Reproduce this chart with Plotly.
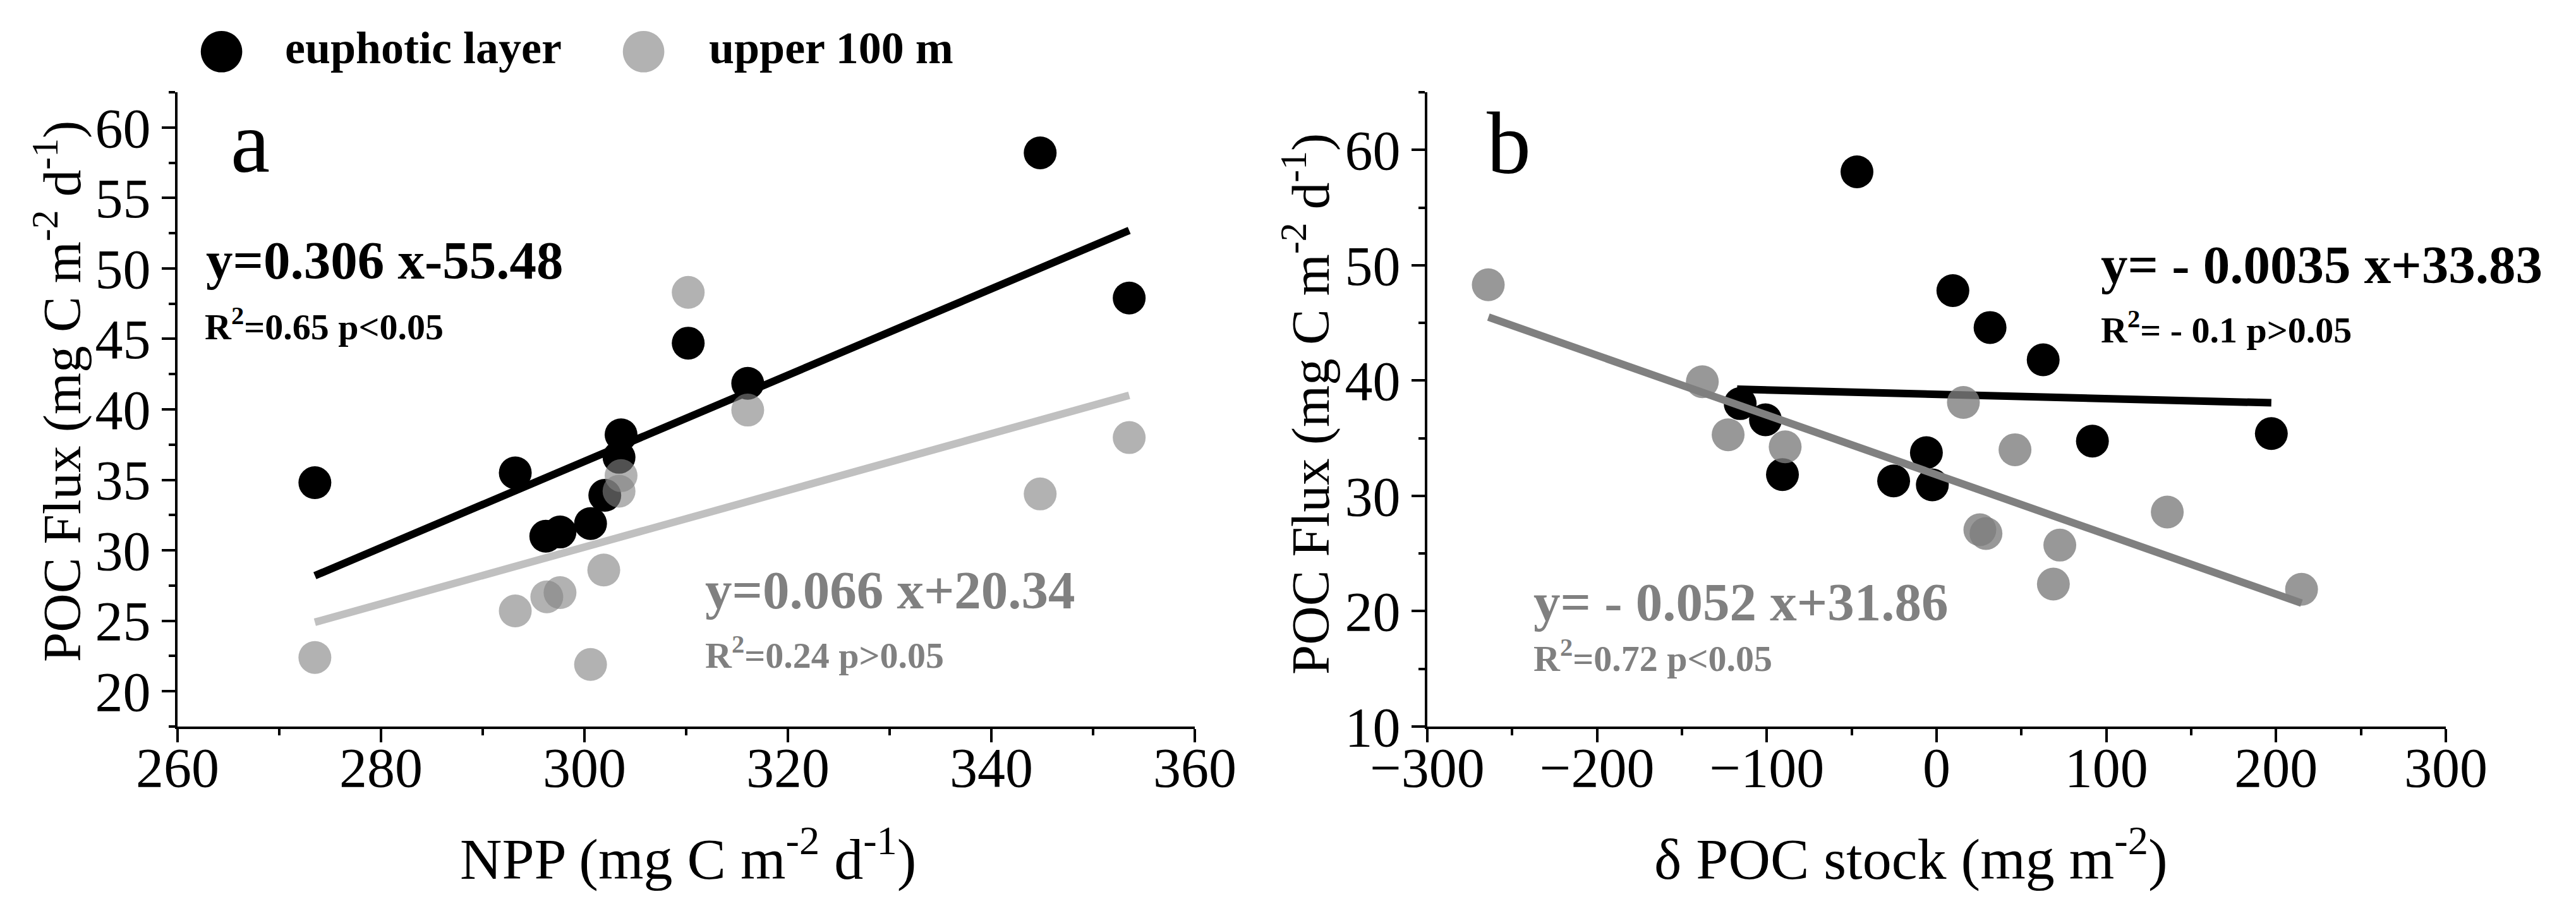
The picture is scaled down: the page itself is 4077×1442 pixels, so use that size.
import plotly.graph_objects as go

# panel a: NPP vs POC flux
npp_eu = [273.5, 293.2, 296.2, 297.6, 300.6, 302.0, 303.4, 303.6, 310.2, 316.05, 344.8, 353.55]
flux_eu_a = [34.8, 35.5, 31.0, 31.3, 31.9, 33.9, 36.6, 38.2, 44.7, 41.85, 58.2, 47.9]
npp_100 = [273.5, 293.2, 296.3, 297.6, 300.6, 301.9, 303.4, 303.6, 310.2, 316.05, 344.8, 353.55]
flux_100_a = [22.4, 25.7, 26.7, 27.0, 21.9, 28.6, 34.2, 35.3, 48.3, 39.95, 34.0, 38.0]

# fitted lines of panel a (end points as drawn)
fit_eu_a_x = [273.5, 353.55]
fit_eu_a_y = [28.2, 52.7]
fit_100_a_x = [273.5, 353.55]
fit_100_a_y = [24.9, 41.0]

# panel b: delta POC stock vs POC flux
dpoc_eu = [-46.9, -115.7, -100.8, -90.8, -25.3, -6.0, -2.5, 9.6, 31.5, 62.8, 91.8, 197.2]
flux_eu_b = [58.1, 38.0, 36.6, 31.85, 31.3, 33.75, 30.95, 47.8, 44.6, 41.8, 34.75, 35.4]
dpoc_100 = [-264.1, -138.0, -122.8, -89.2, 15.8, 46.2, 135.9, 25.5, 29.1, 72.6, 68.8, 215.0]
flux_100_b = [48.3, 39.9, 35.3, 34.25, 38.1, 34.0, 28.6, 27.06, 26.74, 25.73, 22.35, 21.9]

fit_eu_b_x = [-117.5, 197.2]
fit_eu_b_y = [39.25, 38.07]
fit_100_b_x = [-264.0, 215.0]
fit_100_b_y = [45.5, 20.7]

W, H = 4077, 1442
FONT = "Liberation Serif, Times New Roman, serif"
MS = 52

fig = go.Figure()

# panel a
fig.add_trace(go.Scatter(x=npp_eu, y=flux_eu_a, mode="markers", xaxis="x", yaxis="y",
                         marker=dict(size=MS, color="black"), showlegend=False))
fig.add_trace(go.Scatter(x=fit_eu_a_x, y=fit_eu_a_y, mode="lines", xaxis="x", yaxis="y",
                         line=dict(color="black", width=12), showlegend=False))
fig.add_trace(go.Scatter(x=fit_100_a_x, y=fit_100_a_y, mode="lines", xaxis="x", yaxis="y",
                         line=dict(color="#c0c0c0", width=12), showlegend=False))
fig.add_trace(go.Scatter(x=npp_100, y=flux_100_a, mode="markers", xaxis="x", yaxis="y",
                         marker=dict(size=MS, color="rgba(130,130,130,0.62)"), showlegend=False))

# panel b
fig.add_trace(go.Scatter(x=dpoc_eu, y=flux_eu_b, mode="markers", xaxis="x2", yaxis="y2",
                         marker=dict(size=MS, color="black"), showlegend=False))
fig.add_trace(go.Scatter(x=fit_eu_b_x, y=fit_eu_b_y, mode="lines", xaxis="x2", yaxis="y2",
                         line=dict(color="black", width=12), showlegend=False))
fig.add_trace(go.Scatter(x=fit_100_b_x, y=fit_100_b_y, mode="lines", xaxis="x2", yaxis="y2",
                         line=dict(color="#808080", width=12), showlegend=False))
fig.add_trace(go.Scatter(x=dpoc_100, y=flux_100_b, mode="markers", xaxis="x2", yaxis="y2",
                         marker=dict(size=MS, color="rgba(126,126,126,0.8)"), showlegend=False))

axis_style = dict(showline=True, linecolor="black", linewidth=4, mirror=False,
                  ticks="outside", ticklen=21, tickwidth=4, tickcolor="black",
                  showgrid=False, zeroline=False, automargin=False,
                  tickfont=dict(family=FONT, size=88, color="black"))
minor_style = dict(ticklen=10, tickwidth=4, tickcolor="black", ticks="outside")

ydom = [(H - 1142) / H, (H - 138) / H]
fig.update_layout(
    width=W, height=H, autosize=False,
    margin=dict(l=0, r=0, t=0, b=0),
    paper_bgcolor="white", plot_bgcolor="white",
    xaxis=dict(domain=[273 / W, 1883 / W], range=[260, 360], dtick=20,
               minor=dict(dtick=10, **minor_style), ticklabelstandoff=-36,
               anchor="y", **axis_style),
    yaxis=dict(domain=ydom, range=[17.5, 62.5], dtick=5, tick0=0,
               minor=dict(dtick=2.5, **minor_style), anchor="x", **axis_style),
    xaxis2=dict(domain=[2251 / W, 3863 / W], range=[-300, 300], dtick=100,
                minor=dict(dtick=50, **minor_style), ticklabelstandoff=-36,
                anchor="y2", **axis_style),
    yaxis2=dict(domain=ydom, range=[10, 65], dtick=10, tick0=0,
                minor=dict(dtick=5, **minor_style), anchor="x2", **axis_style),
)


def px(x):
    return x / W


def py(y):
    return (H - y) / H


ann = []
# axis titles
ann.append(dict(text="NPP (mg C m<sup>-2</sup> d<sup>-1</sup>)", x=px(1081), y=py(1345),
                font=dict(size=92)))
ann.append(dict(text="δ POC stock (mg m<sup>-2</sup>)", x=px(3016), y=py(1345),
                font=dict(size=92)))
ann.append(dict(text="POC Flux (mg C m<sup>-2</sup> d<sup>-1</sup>)", x=px(84), y=py(612),
                textangle=-90, font=dict(size=85)))
ann.append(dict(text="POC Flux (mg C m<sup>-2</sup> d<sup>-1</sup>)", x=px(2060), y=py(632),
                textangle=-90, font=dict(size=85)))
for a in ann:
    a.update(xref="paper", yref="paper", showarrow=False, xanchor="center", yanchor="middle")
    a["font"].update(family=FONT, color="black")

# legend
legend_items = [("black", "euphotic layer", 342, 441), ("#b2b2b2", "upper 100 m", 1010, 1112)]
for col, label, cx, tx in legend_items:
    ann.append(dict(text="●", x=px(cx), y=py(66), xref="paper", yref="paper", showarrow=False,
                    xanchor="center", yanchor="middle",
                    font=dict(family="DejaVu Sans", size=86, color=col)))
    ann.append(dict(text="<b>%s</b>" % label, x=px(tx), y=py(68), xref="paper", yref="paper",
                    showarrow=False, xanchor="left", yanchor="middle",
                    font=dict(family=FONT, size=72, color="black")))

# panel letters and regression labels (data coordinates)
inside = [
    ("x", "y", "a", 267.15, 58.96, 140, "black", "center"),
    ("x2", "y2", "b", -252.0, 60.6, 140, "black", "center"),
    ("x", "y", "<b>y=0.306 x-55.48</b>", 262.68, 50.57, 85, "black", "left"),
    ("x", "y", "<b>R<sup>2</sup>=0.65 p&lt;0.05</b>", 262.55, 46.05, 58, "black", "left"),
    ("x", "y", "<b>y=0.066 x+20.34</b>", 311.75, 27.18, 85, "#808080", "left"),
    ("x", "y", "<b>R<sup>2</sup>=0.24 p&gt;0.05</b>", 311.75, 22.7, 58, "#808080", "left"),
    ("x2", "y2", "<b>y= - 0.0035 x+33.83</b>", 96.1, 50.07, 85, "black", "left"),
    ("x2", "y2", "<b>R<sup>2</sup>= - 0.1 p&gt;0.05</b>", 96.1, 44.6, 58, "black", "left"),
    ("x2", "y2", "<b>y= - 0.052 x+31.86</b>", -238.2, 20.78, 85, "#808080", "left"),
    ("x2", "y2", "<b>R<sup>2</sup>=0.72 p&lt;0.05</b>", -238.2, 16.13, 58, "#808080", "left"),
]
for xr, yr, txt, x, y, size, col, xa in inside:
    ann.append(dict(text=txt, x=x, y=y, xref=xr, yref=yr, showarrow=False,
                    xanchor=xa, yanchor="middle",
                    font=dict(family=FONT, size=size, color=col)))

fig.update_layout(annotations=ann)

fig.write_html("out.html")
